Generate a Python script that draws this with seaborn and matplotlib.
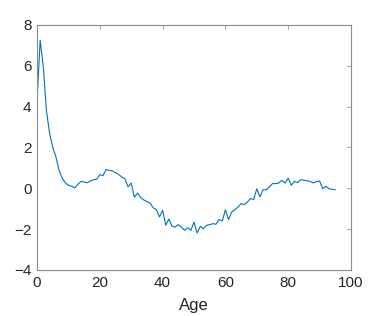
import numpy as np
import pandas as pd
import matplotlib
matplotlib.use('Agg')
import matplotlib.pyplot as plt
import seaborn as sns

# values, one per year of age
age = list(range(0, 96))
value = [4.3, 7.25, 5.95, 3.8, 2.7, 2.0, 1.55, 0.9, 0.5, 0.27,
         0.15, 0.1, 0.02, 0.2, 0.34, 0.31, 0.27, 0.36, 0.42, 0.44,
         0.67, 0.62, 0.92, 0.88, 0.85, 0.77, 0.68, 0.55, 0.47, 0.07,
         0.26, -0.44, -0.23, -0.45, -0.57, -0.65, -0.72, -0.95, -1.05, -1.4,
         -1.08, -1.81, -1.5, -1.86, -1.9, -1.78, -1.9, -2.06, -1.93, -2.06,
         -1.65, -2.19, -1.86, -1.98, -1.81, -1.78, -1.73, -1.76, -1.53, -1.6,
         -1.05, -1.53, -1.16, -1.05, -0.92, -0.75, -0.8, -0.67, -0.5, -0.55,
         -0.02, -0.42, -0.07, -0.07, 0.07, 0.23, 0.23, 0.26, 0.39, 0.26,
         0.5, 0.15, 0.34, 0.28, 0.42, 0.39, 0.37, 0.34, 0.26, 0.33,
         0.36, -0.02, 0.1, -0.02, -0.05, -0.07]
xticks = [0, 20, 40, 60, 80, 100]
yticks = [-4, -2, 0, 2, 4, 6, 8]

df = pd.DataFrame({'Age': age, 'value': value})

sns.set_style('white')
plt.rcParams['font.family'] = ['Liberation Sans', 'DejaVu Sans']

fig = plt.figure(figsize=(3.74, 3.16), dpi=100)
ax = fig.add_axes([0.099, 0.1456, 0.8395, 0.7754])
sns.lineplot(data=df, x='Age', y='value', ax=ax, color='#0072BD', linewidth=0.8)

ax.set_xlim(0, 100)
ax.set_ylim(-4, 8)
ax.set_xticks(xticks)
ax.set_yticks(yticks)
ax.set_xlabel('Age', fontsize=12, color='#262626', labelpad=6)
ax.set_ylabel('')
ax.tick_params(direction='in', length=3, width=0.6, color='#8c8c8c',
               labelcolor='#262626', labelsize=11, top=True, right=True, pad=4)
for s in ax.spines.values():
    s.set_color('#8c8c8c')
    s.set_linewidth(0.8)

fig.savefig('out.png', dpi=100)
